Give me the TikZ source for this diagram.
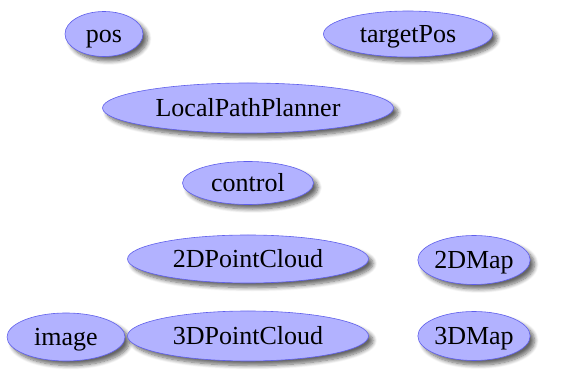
\documentclass[tikz,border=0pt]{standalone}
\usepackage{fontspec}
\setmainfont{Liberation Serif}
\usetikzlibrary{shapes.geometric,shadows.blur}

\definecolor{topicfill}{RGB}{178,178,255}
\definecolor{topicline}{RGB}{95,95,235}

\tikzset{
  topic/.style={ellipse, draw=topicline, fill=topicfill, line width=0.6pt,
    inner sep=0pt, font=\fontsize{26}{28}\selectfont, text height=20pt, text depth=2pt,
    blur shadow={shadow xshift=4.5pt, shadow yshift=-4.5pt, shadow blur radius=4pt,
      shadow blur steps=8, shadow opacity=60}}
}

\begin{document}
\begin{tikzpicture}[x=1pt,y=1pt]
      \useasboundingbox (0,0) rectangle (563,-374);

      \node [topic, minimum width=78, minimum height=45] (pos) at (104,-34) {pos};
      \node [topic, minimum width=169, minimum height=46] (targetPos) at (408,-34) {targetPos};

      \node [topic, minimum width=291, minimum height=50] (planner) at (248,-108) {LocalPathPlanner};

      \node [topic, minimum width=131, minimum height=43] (control) at (248,-183) {control};

      \node [topic, minimum width=241, minimum height=48] (cloud2d) at (248,-259) {2DPointCloud};
      \node [topic, minimum width=107, minimum height=49] (map2d) at (474,-260) {2DMap};

      \node [topic, minimum width=118, minimum height=48] (image) at (66,-337) {image};
      \node [topic, minimum width=241, minimum height=50] (cloud3d) at (248,-336) {3DPointCloud};
      \node [topic, minimum width=107, minimum height=49] (map3d) at (474,-336) {3DMap};
    \end{tikzpicture}
\end{document}
